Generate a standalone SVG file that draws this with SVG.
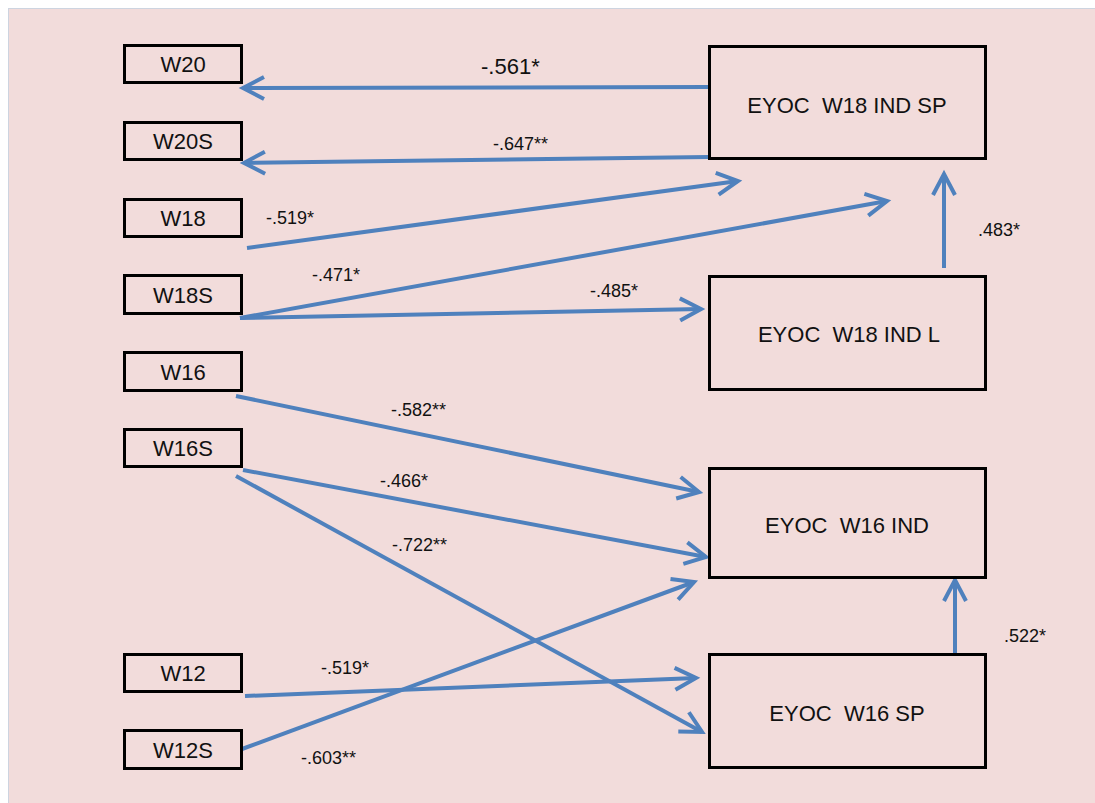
<svg xmlns="http://www.w3.org/2000/svg" width="1095" height="803" viewBox="0 0 1095 803">
<defs>
<style>
.bx{fill:none;stroke:#000;stroke-width:3}
.nt{font-family:"Liberation Sans",Arial,sans-serif;font-size:22px;fill:#111;text-anchor:middle}
.lb{font-family:"Liberation Sans",Arial,sans-serif;font-size:18px;fill:#111}
.lb2{font-family:"Liberation Sans",Arial,sans-serif;font-size:22px;fill:#111}
.cn{stroke:#4F81BD;stroke-width:4;fill:none;marker-end:url(#ah)}
</style>
<marker id="ah" markerUnits="userSpaceOnUse" markerWidth="30" markerHeight="30" viewBox="-26 -15 30 30" refX="0" refY="0" orient="auto" overflow="visible">
<path d="M -21 -11 L 0 0 L -21 11" fill="none" stroke="#4F81BD" stroke-width="4" stroke-linejoin="miter"/>
</marker>
</defs>
<rect x="0" y="0" width="1095" height="803" fill="#fff"/>
<rect x="8.5" y="8.5" width="1087" height="795" fill="#F2DCDB" stroke="#CDD4E0" stroke-width="1"/>

<g id="connectors">
<line class="cn" x1="709" y1="87" x2="243" y2="88"/>
<line class="cn" x1="709" y1="157" x2="244" y2="163"/>
<line class="cn" x1="247" y1="248" x2="738" y2="181"/>
<line class="cn" x1="240" y1="318" x2="887" y2="201"/>
<line class="cn" x1="240" y1="318" x2="701" y2="309"/>
<line class="cn" x1="944" y1="268" x2="944" y2="174"/>
<line class="cn" x1="236" y1="396" x2="699" y2="492"/>
<line class="cn" x1="243" y1="470" x2="706" y2="557"/>
<line class="cn" x1="236" y1="476" x2="702" y2="732"/>
<line class="cn" x1="245" y1="696" x2="696" y2="678"/>
<line class="cn" x1="242" y1="749" x2="694" y2="582"/>
<line class="cn" x1="955" y1="653" x2="955" y2="580"/>
</g>

<g id="labels">
<text class="lb2" x="481" y="74">-.561*</text>
<text class="lb" x="493" y="150">-.647**</text>
<text class="lb" x="266" y="224">-.519*</text>
<text class="lb" x="312" y="281">-.471*</text>
<text class="lb" x="590" y="297">-.485*</text>
<text class="lb" x="978" y="236">.483*</text>
<text class="lb" x="391" y="416">-.582**</text>
<text class="lb" x="380" y="487">-.466*</text>
<text class="lb" x="392" y="551">-.722**</text>
<text class="lb" x="321" y="674">-.519*</text>
<text class="lb" x="301" y="764">-.603**</text>
<text class="lb" x="1004" y="642">.522*</text>
</g>

<g id="W20"><rect class="bx" x="124.5" y="45.5" width="117" height="37"/><text class="nt" x="183" y="72">W20</text></g>
<g id="W20S"><rect class="bx" x="124.5" y="122.5" width="117" height="37"/><text class="nt" x="183" y="149">W20S</text></g>
<g id="W18"><rect class="bx" x="124.5" y="199.5" width="117" height="37"/><text class="nt" x="183" y="226">W18</text></g>
<g id="W18S"><rect class="bx" x="124.5" y="275.5" width="117" height="38"/><text class="nt" x="183" y="303">W18S</text></g>
<g id="W16"><rect class="bx" x="124.5" y="352.5" width="117" height="38"/><text class="nt" x="183" y="380">W16</text></g>
<g id="W16S"><rect class="bx" x="124.5" y="429.5" width="117" height="37"/><text class="nt" x="183" y="456">W16S</text></g>
<g id="W12"><rect class="bx" x="124.5" y="654.5" width="117" height="37"/><text class="nt" x="183" y="681">W12</text></g>
<g id="W12S"><rect class="bx" x="124.5" y="730.5" width="117" height="38"/><text class="nt" x="183" y="758">W12S</text></g>

<g id="EYOC_W18_IND_SP"><rect class="bx" x="709.5" y="46.5" width="276" height="112"/><text class="nt" x="847" y="113" xml:space="preserve">EYOC  W18 IND SP</text></g>
<g id="EYOC_W18_IND_L"><rect class="bx" x="709.5" y="276.5" width="276" height="113"/><text class="nt" x="849" y="342" xml:space="preserve">EYOC  W18 IND L</text></g>
<g id="EYOC_W16_IND"><rect class="bx" x="709.5" y="468.5" width="276" height="109"/><text class="nt" x="847" y="533" xml:space="preserve">EYOC  W16 IND</text></g>
<g id="EYOC_W16_SP"><rect class="bx" x="709.5" y="654.5" width="276" height="113"/><text class="nt" x="847" y="721" xml:space="preserve">EYOC  W16 SP</text></g>
</svg>
